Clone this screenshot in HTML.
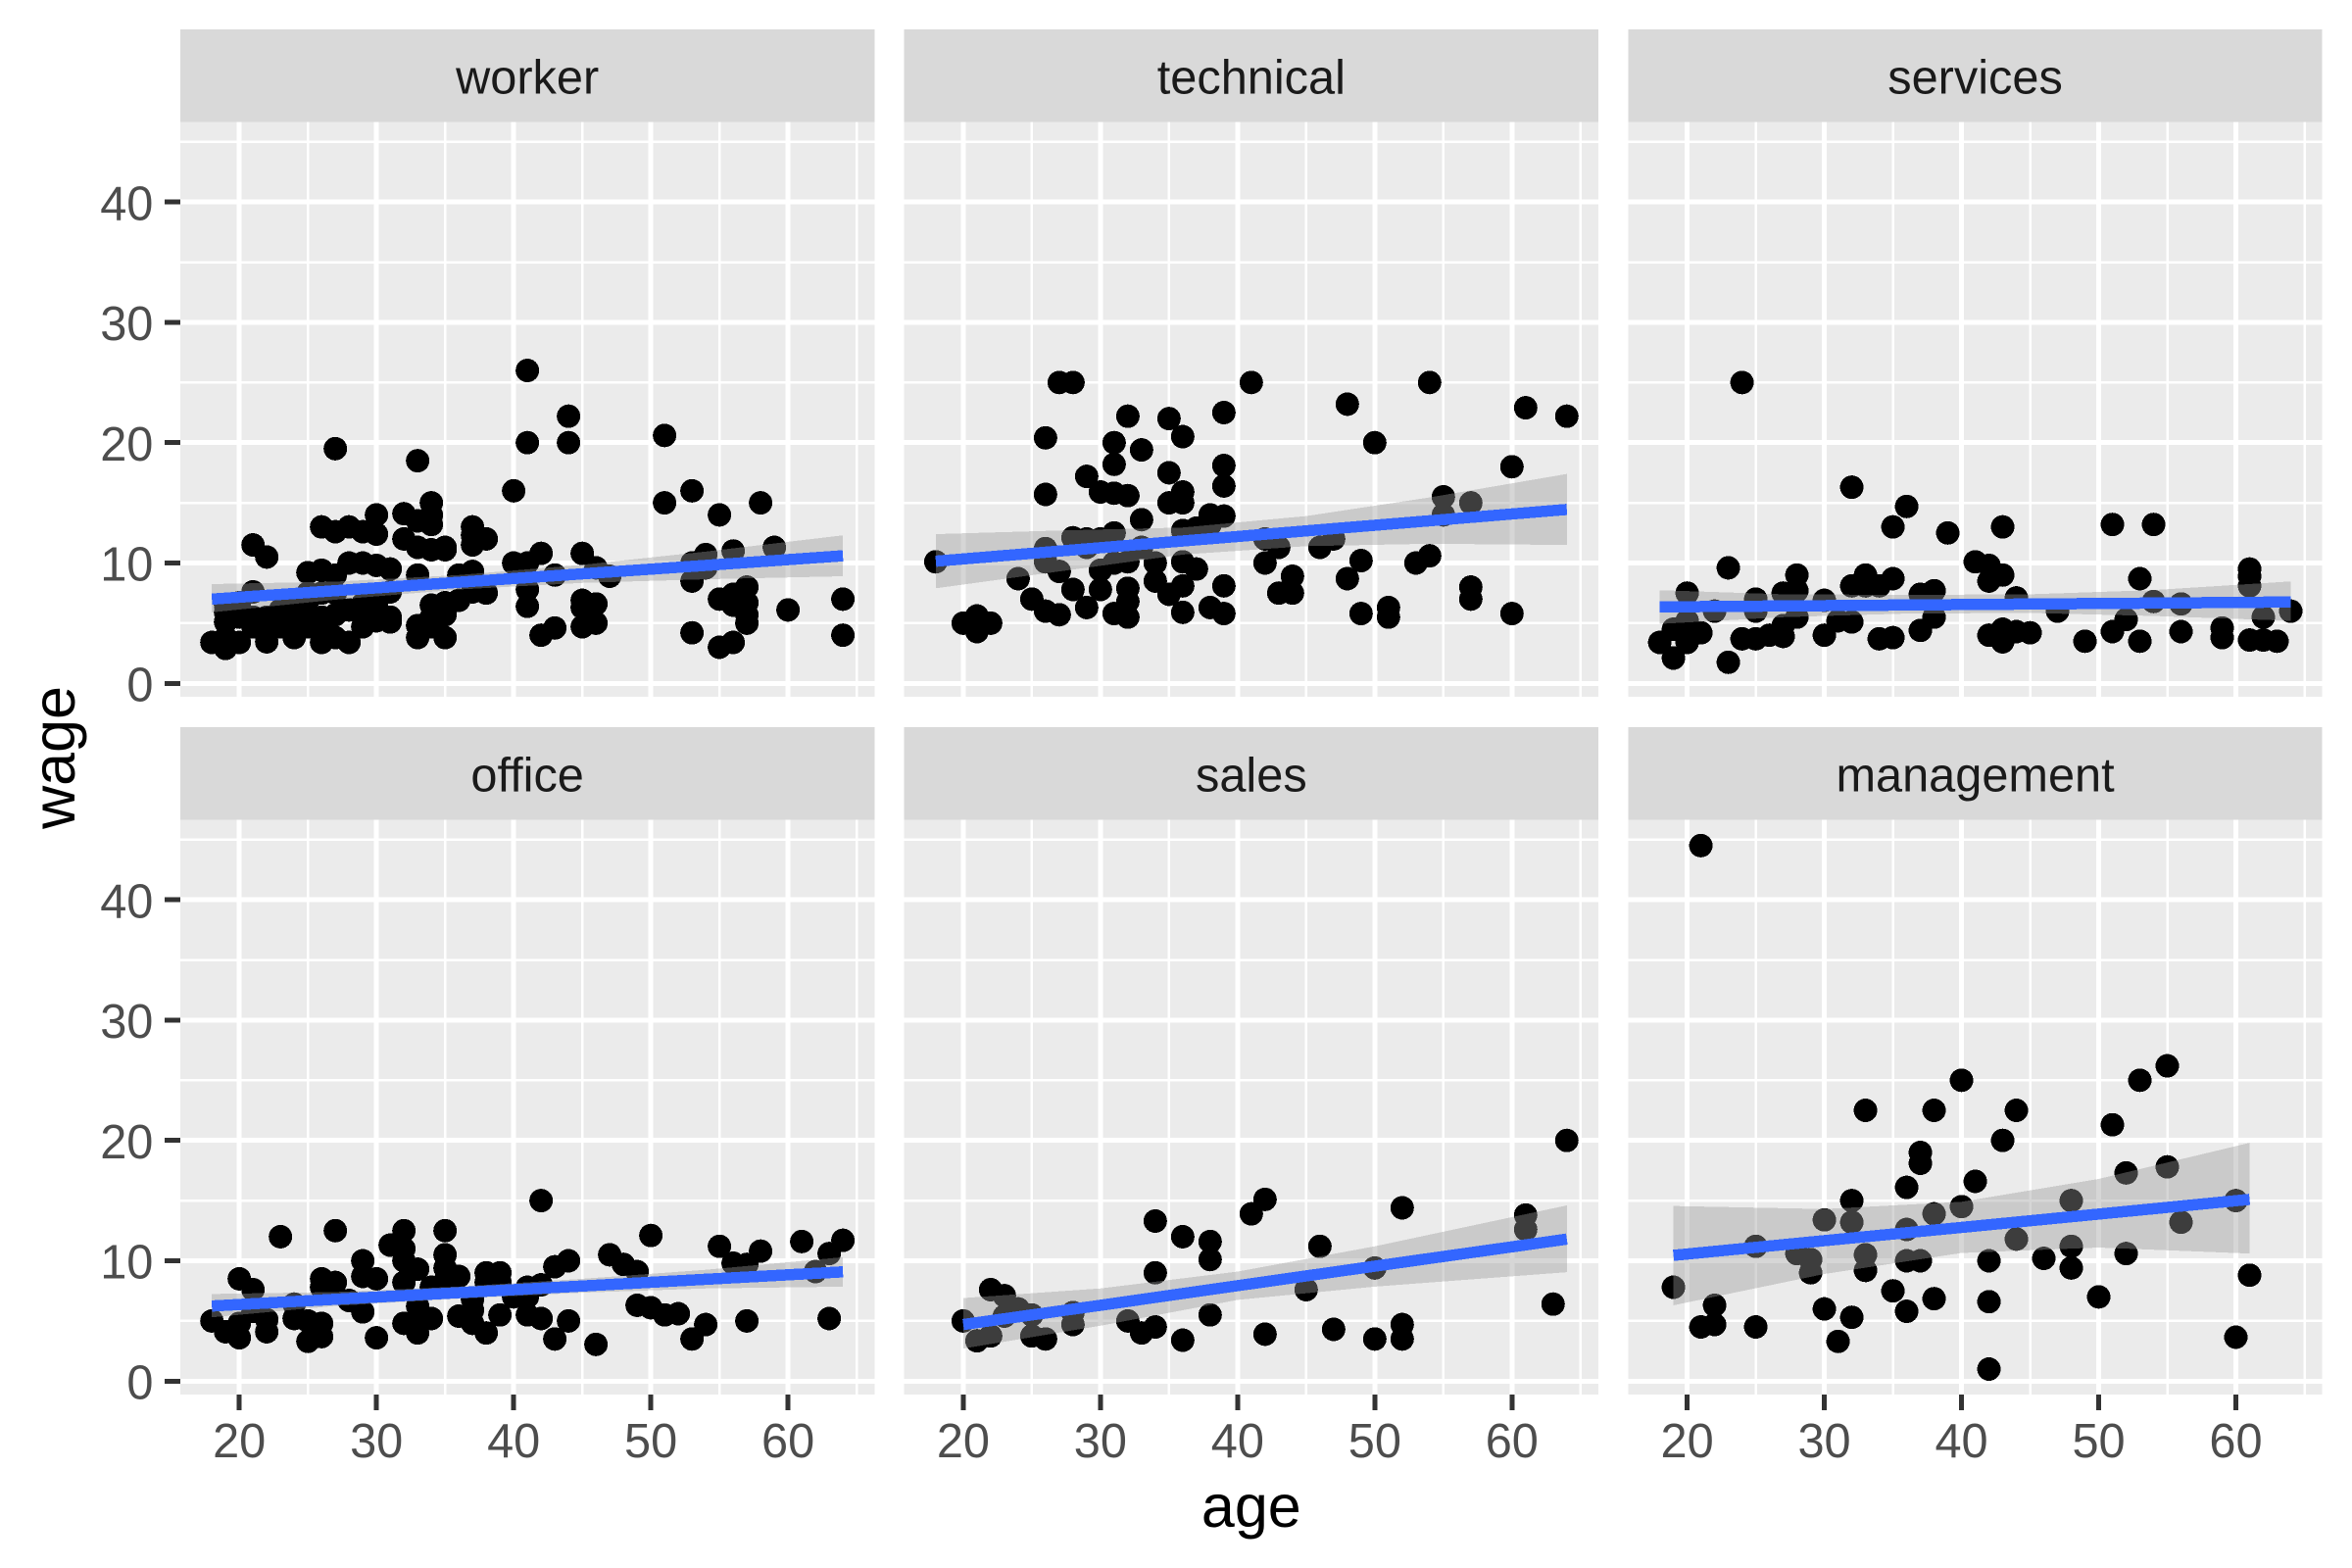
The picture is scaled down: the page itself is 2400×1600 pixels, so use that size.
<!DOCTYPE html>
<html lang="en">
<head>
<meta charset="utf-8">
<title>Wage vs age by sector</title>
<style>
html,body{margin:0;padding:0;background:#fff;}
svg{display:block;font-family:"Liberation Sans",Arial,sans-serif;}
</style>
</head>
<body>
<svg id="chart" xmlns="http://www.w3.org/2000/svg" width="2400" height="1600" viewBox="0 0 2400 1600">
  <rect x="0" y="0" width="2400" height="1600" fill="#ffffff"/>
  <text x="1276.8" y="1558" font-size="61" text-anchor="middle" fill="#000">age</text>
  <text transform="translate(76,773) rotate(-90)" font-size="61" text-anchor="middle" fill="#000">wage</text>
</svg>
<script>
const sectorNames = ["worker", "technical", "services", "office", "sales", "management"];
const xTickValues = [20, 30, 40, 50, 60];
const xMinorValues = [25, 35, 45, 55, 65];
const yTickValues = [0, 10, 20, 30, 40];
const yMinorValues = [5, 15, 25, 35, 45];

const workerAges = [
41,44,44,41,27,33,51,51,53,55,
58,40,34,34,32,34,33,30,28,26,
27,29,30,37,37,38,37,32,33,34,
35,35,21,22,42,45,54,56,59,40,
41,53,54,46,47,43,28,29,30,31,
25,26,27,33,36,37,38,41,41,45,
46,45,46,45,43,42,53,53,55,56,
55,56,57,56,57,57,57,60,64,64,
18,19,19,20,21,22,22,24,26,26,
28,27,31,31,33,33,34,35,34,35,
19,20,21,22,23,24,25,26,27,28,
29,30,29,30,25,23,21,27,26,28,
30,29,31,34,35,36,37,19,20,19,
24,25,25,23];
const workerWages = [
26,22.2,20,20,19.5,18.5,20.6,15,16,14,
15,16,15,14,14.1,13.2,13.5,14,13,13,
12.6,12.6,12.4,13,12.3,12,11.5,12,11.3,11.1,
11.1,11.3,11.5,10.5,10.8,10.8,10.7,11,11.3,10,
10,10,9.6,9.6,8.9,9,10,10,9.8,9.5,
9.2,9.4,9,9,9,9.3,7.5,7.8,6.4,6.9,
6.6,6.3,5,4.7,4.6,4,8.5,4.2,3,3.4,
7,7.4,8,6.5,6.7,5.7,5,6.1,7,4,
3.4,2.9,3.8,3.4,7.6,3.45,4.7,3.8,3.4,4.4,
3.4,3.8,5.1,5.5,3.8,4.8,5.5,3.8,4.7,5.7,
5.9,5.5,5.5,5.5,5.7,5.5,5.7,5.5,5.7,6.1,
5.7,6.7,4.7,5.2,4.7,4.7,4.7,7.5,7.5,6.1,
6.6,6.6,7.6,6.5,6.7,6.9,7.6,5.1,6.7,6.5,
6.7,6.9,7.5,6.1];

const technicalAges = [
27,28,41,54,39,32,35,36,26,31,
31,33,48,50,61,64,60,39,39,35,
36,36,35,26,29,30,31,32,33,38,
39,36,37,38,31,28,29,30,29,26,
55,55,57,42,42,43,46,47,49,48,
53,54,44,44,43,49,51,51,57,57,
60,18,24,25,26,27,26,27,28,30,
30,29,31,32,32,32,32,33,34,34,
35,36,36,36,37,39,38,39,21,20,
21,22,21,31];
const technicalWages = [
25,25,25,25,22.5,22.2,22,20.5,20.4,20,
18.2,19.4,23.2,20,22.9,22.2,18,18.1,16.4,17.5,
15.9,15,15,15.7,17.2,15.9,15.8,15.6,13.6,14,
13.9,12.7,12.9,13.2,12.5,12.1,12,12,11.3,11.2,
15.5,14,15,12,10,11.3,11.3,12,10.2,8.7,
10,10.6,8.9,7.5,7.5,5.8,6.3,5.5,8,7,
5.8,10.1,8.7,7,6,5.7,10.1,9.3,7.8,9.4,
7.8,6.3,5.8,7.9,6.8,5.5,10.1,11.3,10,8.5,
7.4,8.1,5.9,10.1,9.5,8.1,6.3,5.8,5.6,5,
4.3,5,5,10];

const servicesAges = [
24,32,36,35,39,43,51,54,23,20,
28,27,28,25,25,30,32,33,34,33,
35,37,38,41,42,43,42,44,47,53,
54,56,52,51,53,56,49,59,59,61,
61,61,62,64,61,62,63,18,19,23,
19,20,20,21,22,24,25,26,27,27,
28,31,32,30,34,35,37,38,42,43,
43,44,45,20];
const servicesWages = [
25,16.3,14.7,13,12.5,13,13.2,13.2,9.6,7.5,
9,7.5,7.7,7,6,6.9,8.1,9,8.1,8.1,
8.7,7.4,7.7,10.1,9.8,9,8.5,7.1,6,8.7,
6.8,6.6,5.3,4.3,3.5,4.3,3.5,4.6,3.8,9.5,
8.9,8.1,5.5,6,3.6,3.6,3.5,3.4,2.1,1.75,
4.5,4.3,3.4,4.2,6,3.7,3.7,4,3.9,4.8,
5.5,5.2,5.1,4,3.7,3.8,4.4,5.5,4,4.5,
3.45,4.3,4.2,5.2];

const officeAges = [
42,27,23,32,35,31,32,32,33,35,
35,29,29,30,20,21,26,27,26,36,
38,39,38,39,44,43,42,41,47,48,
49,50,55,56,57,58,61,63,64,62,
63,57,49,50,51,52,54,53,46,43,
44,42,41,39,38,37,37,36,34,33,
32,33,30,29,25,26,26,25,24,24,
22,22,20,19,18,20,21,28,33,32,
35,34,40,41,37];
const officeWages = [
15,12.5,12,12.5,12.5,11.3,11,10,9.3,10.5,
9.4,10,8.7,8.5,8.5,7.6,8.5,8.2,7.8,8.7,
9,9,8.2,8.2,10,9.5,8,7.8,10.5,9.7,
9.1,12.1,11.2,9.8,9.7,10.8,11.6,10.6,11.7,9.1,
5.2,5,6.3,6.1,5.5,5.6,4.7,3.5,3.05,3.5,
5,5.2,5.5,5.5,4,4.8,5.9,5.4,5.2,4,
4.8,5,3.6,5.75,3.3,3.7,4.8,5,5.2,6.4,
4.1,5.1,3.6,4.1,5,4.8,5.8,6.7,6.2,8.2,
8.3,7.8,7,7,6.8];

const salesAges = [
64,42,41,34,36,38,38,52,61,61,
46,34,50,45,22,23,24,25,23,28,
28,20,32,33,34,36,38,42,47,50,
52,52,63,21,22,25,26];
const salesWages = [
20,15.1,13.9,13.3,12,11.6,10.1,14.4,13.8,12.6,
11.2,9,9.4,7.6,7.6,7.1,6,5.5,5.4,5.7,
4.7,5,5,4,4.5,3.4,5.5,3.9,4.3,3.5,
4.7,3.5,6.4,3.35,3.75,3.75,3.5];

const managementAges = [
21,40,53,55,33,38,44,51,43,37,
37,41,36,55,52,32,48,60,40,38,
30,32,56,36,44,25,48,28,29,33,
52,36,37,42,46,48,29,33,35,50,
61,19,22,30,38,42,36,32,21,22,
25,31,60,42];
const managementWages = [
44.5,25,25,26.2,22.5,22.5,22.5,21.3,20,19,
18.1,16.6,16.1,17.8,17.3,15,15,15,14.5,13.9,
13.4,13.2,13.2,12.6,11.8,11.2,11.2,10.6,10.1,10.5,
10.6,10,10,10,10.2,9.4,9,9.2,7.5,7,
8.8,7.8,6.3,6,6.85,6.6,5.8,5.3,4.5,4.7,
4.5,3.3,3.65,1];

const workerFitAges = [18,27,36,45,54,64];
const workerFit = [7.0,7.7,8.4,9.1,9.8,10.6];
const workerHigh = [8.25,8.45,9.0,9.85,10.95,12.3];
const workerLow = [5.9,6.95,7.8,8.35,8.65,8.9];

const technicalFitAges = [18,27,36,45,54,64];
const technicalFit = [10.15,10.99,11.83,12.67,13.51,14.45];
const technicalHigh = [12.4,12.7,12.95,13.9,15.45,17.4];
const technicalLow = [7.9,9.3,10.7,11.4,11.6,11.5];

const servicesFitAges = [18,27,36,45,54,64];
const servicesFit = [6.35,6.43,6.51,6.59,6.67,6.76];
const servicesHigh = [7.74,7.4,7.35,7.4,7.75,8.47];
const servicesLow = [4.94,5.5,5.8,5.85,5.6,5.2];

const officeFitAges = [18,27,36,45,54,64];
const officeFit = [6.24,6.8,7.35,7.9,8.46,9.08];
const officeHigh = [7.24,7.4,7.85,8.5,9.25,10.3];
const officeLow = [5.3,6.25,6.85,7.35,7.7,7.85];

const salesFitAges = [20,30,40,50,64];
const salesFit = [4.7,6.3,7.93,9.55,11.8];
const salesHigh = [6.9,7.7,9.1,11.2,14.6];
const salesLow = [2.7,4.6,6.75,7.85,9.05];

const managementFitAges = [19,30,40,50,61];
const managementFit = [10.45,11.67,12.77,13.88,15.1];
const managementHigh = [14.55,14.3,14.9,16.8,19.8];
const managementLow = [6.3,8.9,10.65,11.1,10.6];

const svgNS = "http://www.w3.org/2000/svg";
const chart = document.getElementById("chart");

const panelWidth = 708.3, panelGapX = 30.4, panelLeft = 184;
const stripTop = 30, stripHeight = 94.7, panelHeight = 586.3, rowStep = 712;
const xDomain = [15.7, 66.3];
const yDomain = [-1.116, 46.63];

function panelX(col) { return panelLeft + col * (panelWidth + panelGapX); }
function panelY(row) { return stripTop + stripHeight + row * rowStep; }
function xAxis(age, col) {
  return panelX(col) + (age - xDomain[0]) / (xDomain[1] - xDomain[0]) * panelWidth;
}
function yAxis(wage, row) {
  return panelY(row) + panelHeight - (wage - yDomain[0]) / (yDomain[1] - yDomain[0]) * panelHeight;
}

function make(tag, attrs, parent) {
  const el = document.createElementNS(svgNS, tag);
  for (const k in attrs) el.setAttribute(k, attrs[k]);
  (parent || chart).appendChild(el);
  return el;
}

function drawPanel(index, ages, wages, fitAges, fit, high, low) {
  const col = index % 3;
  const row = Math.floor(index / 3);
  const name = sectorNames[index];
  const px = panelX(col), py = panelY(row);

  const group = make("g", {});
  
  

  const strip = make("rect", {x: px, y: py - stripHeight, width: panelWidth, height: stripHeight, fill: "#D9D9D9", "shape-rendering": "crispEdges"}, group);
  
  

  const stripLabel = make("text", {x: px + panelWidth / 2, y: py - 29, "font-size": 48.7, "text-anchor": "middle", fill: "#1A1A1A"}, group);
  stripLabel.textContent = name;
  
  

  const bg = make("rect", {x: px, y: py, width: panelWidth, height: panelHeight, fill: "#EBEBEB", "shape-rendering": "crispEdges"}, group);
  
  

  yMinorValues.forEach(v => {
    const yy = yAxis(v, row);
    const l = make("line", {x1: px, x2: px + panelWidth, y1: yy, y2: yy, stroke: "#fff", "stroke-width": 2.5, "shape-rendering": "crispEdges"}, group);
    
    
  });
  xMinorValues.forEach(v => {
    const xx = xAxis(v, col);
    const l = make("line", {x1: xx, x2: xx, y1: py, y2: py + panelHeight, stroke: "#fff", "stroke-width": 2.5, "shape-rendering": "crispEdges"}, group);
    
    
  });
  yTickValues.forEach(v => {
    const yy = yAxis(v, row);
    const l = make("line", {x1: px, x2: px + panelWidth, y1: yy, y2: yy, stroke: "#fff", "stroke-width": 5, "shape-rendering": "crispEdges"}, group);
    
    
  });
  xTickValues.forEach(v => {
    const xx = xAxis(v, col);
    const l = make("line", {x1: xx, x2: xx, y1: py, y2: py + panelHeight, stroke: "#fff", "stroke-width": 5, "shape-rendering": "crispEdges"}, group);
    
    
  });

  ages.forEach((a, i) => {
    const c = make("circle", {cx: xAxis(a, col), cy: yAxis(wages[i], row), r: 12, fill: "#000", "shape-rendering": "crispEdges"}, group);
    
    
  });

  const upper = fitAges.map((a, i) => xAxis(a, col) + "," + yAxis(high[i], row));
  const lower = fitAges.map((a, i) => xAxis(a, col) + "," + yAxis(low[i], row)).reverse();
  const ribbon = make("polygon", {points: upper.concat(lower).join(" "), fill: "#999999", "fill-opacity": 0.4, "shape-rendering": "crispEdges"}, group);
  
  

  const linePoints = fitAges.map((a, i) => xAxis(a, col) + "," + yAxis(fit[i], row)).join(" ");
  const fitLine = make("polyline", {points: linePoints, fill: "none", stroke: "#3366FF", "stroke-width": 11.5, "shape-rendering": "crispEdges"}, group);
  
  

  if (col === 0) {
    yTickValues.forEach(v => {
      const yy = yAxis(v, row);
      const t = make("line", {x1: px - 16, x2: px, y1: yy, y2: yy, stroke: "#333333", "stroke-width": 5, "shape-rendering": "crispEdges"}, group);
      
      
      const lab = make("text", {x: px - 27.6, y: yy + 18.2, "font-size": 48.7, "text-anchor": "end", fill: "#4D4D4D"}, group);
      lab.textContent = String(v);
      
      
    });
  }
  if (row === 1) {
    xTickValues.forEach(v => {
      const xx = xAxis(v, col);
      const bottom = py + panelHeight;
      const t = make("line", {x1: xx, x2: xx, y1: bottom, y2: bottom + 16, stroke: "#333333", "stroke-width": 5, "shape-rendering": "crispEdges"}, group);
      
      
      const lab = make("text", {x: xx, y: 1487, "font-size": 48.7, "text-anchor": "middle", fill: "#4D4D4D"}, group);
      lab.textContent = String(v);
      
      
    });
  }
}

drawPanel(0, workerAges, workerWages, workerFitAges, workerFit, workerHigh, workerLow);
drawPanel(1, technicalAges, technicalWages, technicalFitAges, technicalFit, technicalHigh, technicalLow);
drawPanel(2, servicesAges, servicesWages, servicesFitAges, servicesFit, servicesHigh, servicesLow);
drawPanel(3, officeAges, officeWages, officeFitAges, officeFit, officeHigh, officeLow);
drawPanel(4, salesAges, salesWages, salesFitAges, salesFit, salesHigh, salesLow);
drawPanel(5, managementAges, managementWages, managementFitAges, managementFit, managementHigh, managementLow);
</script>
</body>
</html>
